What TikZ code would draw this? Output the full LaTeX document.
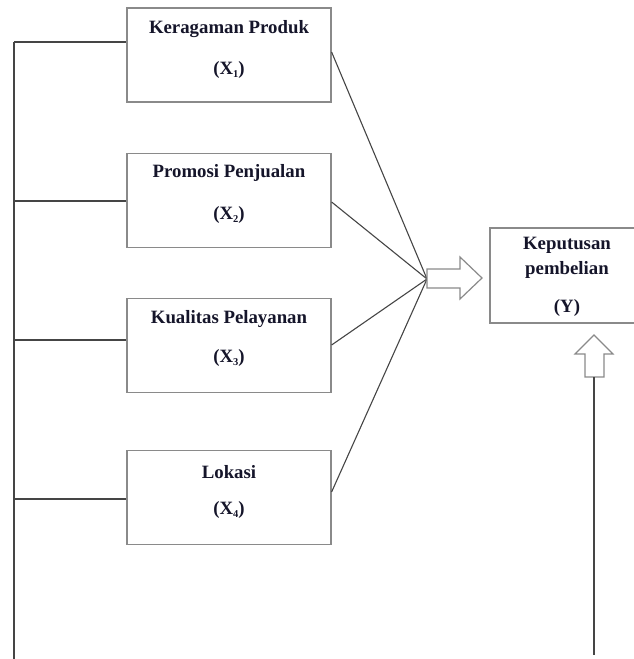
\documentclass[tikz,border=0pt]{standalone}
\usepackage{fontspec}
\setmainfont{Liberation Serif}
\definecolor{boxgray}{HTML}{8A8A8A}
\definecolor{linegray}{HTML}{454545}
\definecolor{txt}{HTML}{15152A}
\newcommand{\xsub}[1]{\raisebox{-2.5pt}{\fontsize{10.5}{10.5}\selectfont #1}}
\begin{document}
\begin{tikzpicture}[x=1pt,y=-1pt,
  varbox/.style={draw=boxgray,line width=1.2pt,fill=white,minimum width=204pt,minimum height=94pt,inner sep=0pt},
  lbl/.style={text=txt,font=\fontsize{18.8}{22}\selectfont\bfseries,inner sep=0pt,anchor=center},
  conn/.style={draw=linegray,line width=1.1pt},
  blockarrow/.style={draw=boxgray,line width=1.2pt,fill=white,line join=miter}]
\useasboundingbox (0,0) rectangle (634,659);
\clip (0,0) rectangle (634,659);
% boxes
\node[varbox] (b1) at (229,55) {};
\node[varbox] (b2) at (229,200.5) {};
\node[varbox] (b3) at (229,345.5) {};
\node[varbox] (b4) at (229,497.5) {};
\node[varbox,minimum width=150pt,minimum height=95pt] (y) at (565,275.5) {};
% texts
\node[lbl] (t1a) at (229,29) {Keragaman Produk};
\node[lbl] (t1b) at (229,70) {(X\xsub{1})};
\node[lbl] (t2a) at (229,173) {Promosi Penjualan};
\node[lbl] (t2b) at (229,215) {(X\xsub{2})};
\node[lbl] (t3a) at (229,319) {Kualitas Pelayanan};
\node[lbl] (t3b) at (229,358) {(X\xsub{3})};
\node[lbl] (t4a) at (229,472) {Lokasi};
\node[lbl] (t4b) at (229,510) {(X\xsub{4})};
\node[lbl] (ya) at (567,245) {Keputusan};
\node[lbl] (yb) at (567,270) {pembelian};
\node[lbl] (yc) at (567,308) {(Y)};
% left trunk
\coordinate (k1) at (14,42);
\coordinate (k2) at (14,201);
\coordinate (k3) at (14,340);
\coordinate (k4) at (14,499);
\coordinate (kb) at (14,659);
\draw[conn] (k1) -- (kb);
\draw[conn] (k1) -- (k1 -| b1.west);
\draw[conn] (k2) -- (k2 -| b2.west);
\draw[conn] (k3) -- (k3 -| b3.west);
\draw[conn] (k4) -- (k4 -| b4.west);
% converging lines
\coordinate (c) at (427,279);
\coordinate (e1) at ([yshift=3pt]b1.east);
\coordinate (e2) at ([yshift=-1.5pt]b2.east);
\coordinate (e3) at ([yshift=0.5pt]b3.east);
\coordinate (e4) at ([yshift=5.5pt]b4.east);
\draw[conn] (e1) -- (c);
\draw[conn] (e2) -- (c);
\draw[conn] (e3) -- (c);
\draw[conn] (e4) -- (c);
% block arrow right
\draw[blockarrow] (427,269) -- (460,269) -- (460,257) -- (482,278) -- (460,299) -- (460,288) -- (427,288) -- cycle;
% block arrow up
\coordinate (u) at (594,377);
\coordinate (ub) at (594,655);
\draw[blockarrow] (585,377) -- (585,354) -- (575,354) -- (594,335) -- (613,354) -- (604,354) -- (604,377) -- cycle;
\draw[conn] (u) -- (ub);
\end{tikzpicture}
\end{document}
